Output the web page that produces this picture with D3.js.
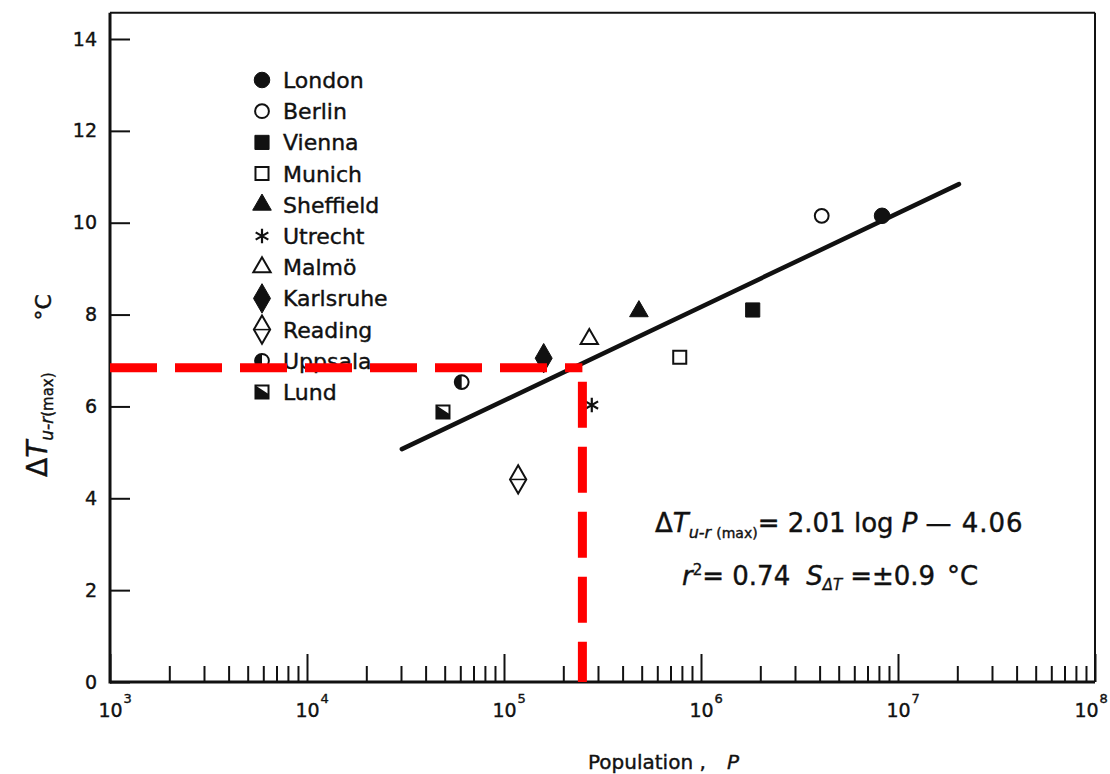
<!DOCTYPE html>
<html>
<head>
<meta charset="utf-8">
<script src="https://cdn.jsdelivr.net/npm/d3@7"></script>
<style>
  body { margin: 0; background: #fff; }
  svg text { font-family: "DejaVu Sans", sans-serif; fill: #111; stroke: #111; stroke-width: 0.4; }
</style>
</head>
<body>
<div id="chart"></div>
<script>
// city data (population, max urban-rural temperature difference)
const cities = ['London', 'Berlin', 'Vienna', 'Munich', 'Sheffield', 'Utrecht', 'Malmö', 'Karlsruhe', 'Reading', 'Uppsala', 'Lund']
const markers = ['circleFilled', 'circleOpen', 'squareFilled', 'squareOpen', 'triFilled', 'asterisk', 'triOpen', 'diamondFilled', 'diamondBar', 'circleHalf', 'squareHalf']
const population = [8.3e6, 4.1e6, 1.83e6, 7.8e5, 4.84e5, 2.79e5, 2.71e5, 1.59e5, 1.18e5, 6.1e4, 4.9e4]
const deltaT = [10.15, 10.15, 8.1, 7.07, 8.07, 6.03, 7.47, 7.05, 4.41, 6.53, 5.88]

// regression line end points, and the red reference lines
const fitP = [3.03e4, 2.04e7]
const fitT = [5.07, 10.84]
const refP = 2.5e5
const refT = 6.84

const yTicks = [0, 2, 4, 6, 8, 10, 12, 14]
const xDecades = [3, 4, 5, 6, 7, 8]

const W = 1110, H = 774
const ink = '#111'
const svg = d3.select('#chart').append('svg').attr('width', W).attr('height', H)

const x = d3.scaleLog().domain([1e3, 1e8]).range([110, 1095])
const y = d3.scaleLinear().domain([0, 14]).range([682, 39])
const yTop = y(14.57)

// frame
const frame = svg.append('g').attr('stroke', ink).attr('fill', 'none')
frame.append('line').attr('x1', 110).attr('x2', 1095).attr('y1', yTop).attr('y2', yTop).attr('stroke-width', 2)
frame.append('line').attr('x1', 1095).attr('x2', 1095).attr('y1', yTop).attr('y2', y(0)).attr('stroke-width', 2)
frame.append('line').attr('x1', 110).attr('x2', 110).attr('y1', yTop).attr('y2', y(0) + 1.5).attr('stroke-width', 3)
frame.append('line').attr('x1', 110).attr('x2', 1095).attr('y1', y(0)).attr('y2', y(0)).attr('stroke-width', 3)

// y axis
svg.append('g')
  .attr('transform', 'translate(110,0)')
  .call(d3.axisLeft(y).tickValues(yTicks).tickSize(-20).tickPadding(13).tickFormat(d3.format('d')))
  .call(g => g.select('.domain').remove())
  .call(g => g.selectAll('line').attr('stroke', ink).attr('stroke-width', 2))
  .call(g => g.selectAll('text').attr('font-size', 19).attr('font-family', null))

// x axis, minor ticks then decades
const decades = xDecades.map(e => Math.pow(10, e))
const minor = x.ticks().filter(d => !decades.includes(d))
svg.append('g')
  .attr('transform', `translate(0,${y(0)})`)
  .call(d3.axisBottom(x).tickValues(minor).tickSize(-16).tickFormat(''))
  .call(g => g.select('.domain').remove())
  .call(g => g.selectAll('line').attr('stroke', ink).attr('stroke-width', 2))

// last label sits a little to the left so it stays inside the page
const labelShift = (d, i) => (i === xDecades.length - 1 ? -9 : 0)
const xMajor = svg.append('g')
  .attr('transform', `translate(0,${y(0)})`)
  .call(d3.axisBottom(x).tickValues(decades).tickSize(-28).tickFormat(() => '10'))
  .call(g => g.select('.domain').remove())
  .call(g => g.selectAll('line').attr('stroke', ink).attr('stroke-width', 2))
  .call(g => g.selectAll('text').attr('font-size', 19).attr('font-family', null)
    .attr('x', (d, i) => labelShift(d, i)).attr('y', 35).attr('dy', 0))
xMajor.selectAll('.tick').append('text')
  .attr('x', (d, i) => 13 + labelShift(d, i)).attr('y', 21).attr('font-size', 13).attr('text-anchor', 'start')
  .text((d, i) => xDecades[i])

// axis titles
const xt = svg.append('text').attr('x', 588).attr('y', 769).attr('font-size', 20)
xt.append('tspan').text('Population ,')
xt.append('tspan').attr('x', 727).attr('font-style', 'italic').text('P')

const yt = svg.append('text').attr('transform', 'translate(47,477) rotate(-90)').attr('font-size', 28)
yt.append('tspan').text('Δ')
yt.append('tspan').attr('font-style', 'italic').text('T')
yt.append('tspan').attr('font-size', 17).attr('font-style', 'italic').attr('dy', 6).text('u-r')
yt.append('tspan').attr('font-size', 15).text('(max)')
yt.append('tspan').attr('font-size', 22).attr('dy', -2).attr('dx', 52).text('°C')

// regression line
const line = d3.line().x(d => x(d[0])).y(d => y(d[1]))
svg.append('path')
  .attr('d', line(d3.zip(fitP, fitT)))
  .attr('fill', 'none').attr('stroke', ink).attr('stroke-width', 4.5).attr('stroke-linecap', 'round')

// marker shapes
function drawMarker(g, kind) {
  const sym = (t, s) => d3.symbol().type(t).size(s)()
  const open = p => p.attr('fill', '#fff').attr('stroke', ink).attr('stroke-width', 2)
  const filled = p => p.attr('fill', ink).attr('stroke', ink).attr('stroke-width', 1)
  if (kind === 'circleFilled') filled(g.append('path').attr('d', sym(d3.symbolCircle, 190)))
  if (kind === 'circleOpen') open(g.append('path').attr('d', sym(d3.symbolCircle, 150)))
  if (kind === 'squareFilled') filled(g.append('path').attr('d', sym(d3.symbolSquare, 200)))
  if (kind === 'squareOpen') open(g.append('path').attr('d', sym(d3.symbolSquare, 170)))
  if (kind === 'triFilled') filled(g.append('path').attr('d', sym(d3.symbolTriangle, 150)))
  if (kind === 'triOpen') open(g.append('path').attr('d', sym(d3.symbolTriangle, 130)))
  if (kind === 'asterisk') g.append('path').attr('d', sym(d3.symbolAsterisk, 150)).attr('stroke', ink).attr('stroke-width', 2.2)
  if (kind === 'diamondFilled') filled(g.append('path').attr('d', sym(d3.symbolDiamond, 250)))
  if (kind === 'diamondBar') {
    open(g.append('path').attr('d', sym(d3.symbolDiamond, 230)))
    g.append('line').attr('x1', -7).attr('x2', 7).attr('stroke', ink).attr('stroke-width', 1.5)
  }
  if (kind === 'circleHalf') {
    open(g.append('path').attr('d', sym(d3.symbolCircle, 150)))
    g.append('path').attr('d', d3.arc()({ innerRadius: 0, outerRadius: 7, startAngle: Math.PI, endAngle: 2 * Math.PI })).attr('fill', ink)
  }
  if (kind === 'squareHalf') {
    open(g.append('path').attr('d', sym(d3.symbolSquare, 170)))
    g.append('path').attr('d', 'M-6.5,-6.5L-6.5,6.5L6.5,6.5L6.5,2Z').attr('fill', ink)
  }
}

// data points
cities.forEach((c, i) => {
  const g = svg.append('g').attr('transform', `translate(${x(population[i])},${y(deltaT[i])})`)
  drawMarker(g, markers[i])
})

// legend
const ly = d3.scalePoint().domain(cities).range([80, 392])
cities.forEach((c, i) => {
  const g = svg.append('g').attr('transform', `translate(262,${ly(c)})`)
  drawMarker(g, markers[i])
  svg.append('text').attr('x', 283).attr('y', ly(c) + 8).attr('font-size', 22).text(c)
})

// equation
const eq1 = svg.append('text').attr('x', 655).attr('y', 532).attr('font-size', 26)
eq1.append('tspan').text('Δ')
eq1.append('tspan').attr('font-style', 'italic').text('T')
eq1.append('tspan').attr('font-size', 16).attr('font-style', 'italic').attr('dy', 6).text('u-r ')
eq1.append('tspan').attr('font-size', 14).text('(max)')
eq1.append('tspan').attr('dy', -6).text('= 2.01 log ')
eq1.append('tspan').attr('font-style', 'italic').text('P')
eq1.append('tspan').attr('letter-spacing', 1).attr('dx', 8).text('— 4.06')

const eq2 = svg.append('text').attr('x', 682).attr('y', 585).attr('font-size', 26)
eq2.append('tspan').attr('font-style', 'italic').text('r')
eq2.append('tspan').attr('font-size', 15).attr('dy', -10).text('2')
eq2.append('tspan').attr('dy', 10).text('= 0.74')
eq2.append('tspan').attr('font-style', 'italic').attr('dx', 16).text('S')
eq2.append('tspan').attr('font-size', 15).attr('font-style', 'italic').attr('dy', 5).text('ΔT')
eq2.append('tspan').attr('dy', -5).attr('dx', 8).text('=±0.9')
eq2.append('tspan').attr('dx', 12).text('°C')

// red reference lines
const red = svg.append('g').attr('stroke', '#f00').attr('stroke-width', 9).attr('fill', 'none')
red.append('line')
  .attr('x1', x(1e3)).attr('x2', x(refP)).attr('y1', y(refT)).attr('y2', y(refT))
  .attr('stroke-dasharray', '47,18')
red.append('line')
  .attr('x1', x(refP)).attr('x2', x(refP)).attr('y1', y(refT)).attr('y2', y(0))
  .attr('stroke-dasharray', '46,19').attr('stroke-dashoffset', 51)
</script>
</body>
</html>
